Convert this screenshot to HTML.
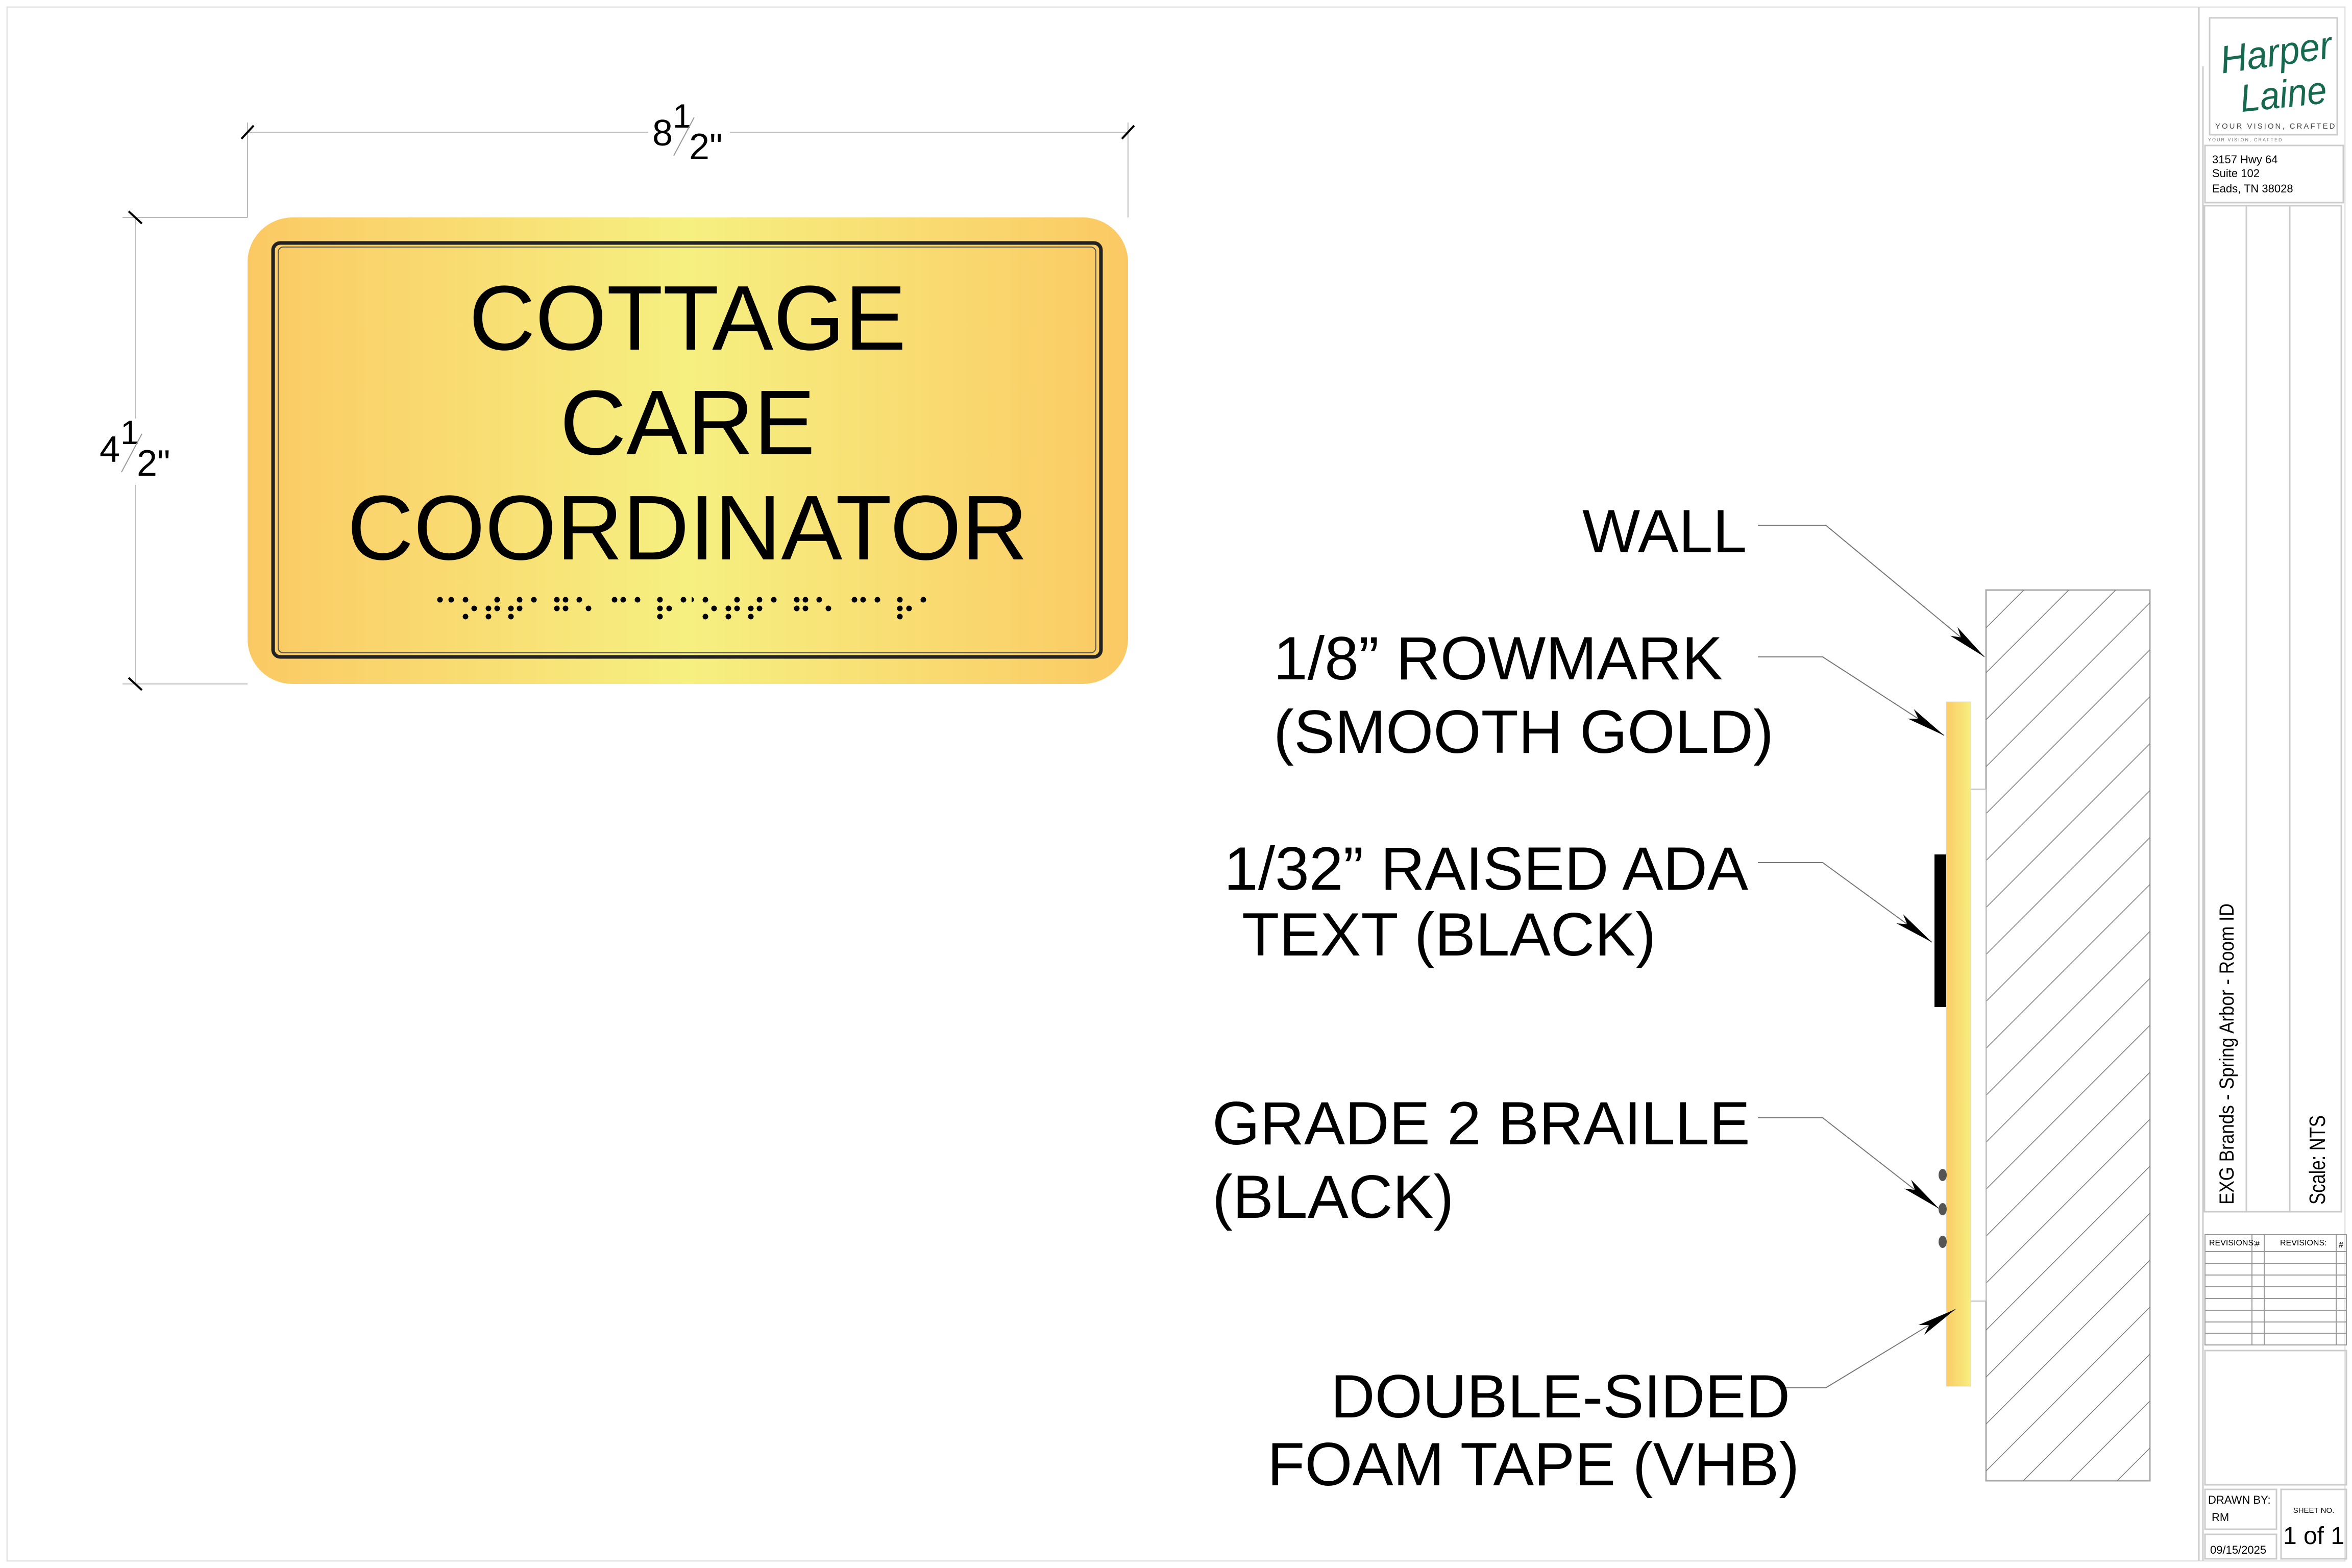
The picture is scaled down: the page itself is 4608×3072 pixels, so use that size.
<!DOCTYPE html>
<html><head><meta charset="utf-8"><style>
html,body{margin:0;padding:0;background:#fff;width:4608px;height:3072px;overflow:hidden}
svg{display:block}
text{font-family:"Liberation Sans",sans-serif}
</style></head><body>
<svg width="4608" height="3072" viewBox="0 0 4608 3072" xmlns="http://www.w3.org/2000/svg" overflow="hidden">
<defs>
<linearGradient id="sg" x1="0" x2="1" y1="0" y2="0">
<stop offset="0" stop-color="#FBC964"/><stop offset="0.5" stop-color="#F6F081"/><stop offset="1" stop-color="#FBC964"/>
</linearGradient>
<linearGradient id="stg" x1="0" x2="1"><stop offset="0" stop-color="#FBCC68"/><stop offset="1" stop-color="#F7EE7F"/></linearGradient>
<clipPath id="wc"><rect x="3891" y="1156" width="321" height="1745"/></clipPath>
<marker id="ah" markerWidth="80" markerHeight="30" refX="78" refY="15" orient="auto" markerUnits="userSpaceOnUse">
<path d="M0,4 L78,15 L0,26 L18,15 Z" fill="#000"/></marker>
<g id="bd">
<circle cx="862" cy="1175" r="5.5"/><circle cx="884" cy="1175" r="5.5"/><circle cx="912" cy="1175" r="5.5"/><circle cx="974" cy="1175" r="5.5"/><circle cx="1018" cy="1175" r="5.5"/><circle cx="1046" cy="1175" r="5.5"/><circle cx="1091" cy="1175" r="5.5"/><circle cx="1108" cy="1175" r="5.5"/><circle cx="1135" cy="1175" r="5.5"/><circle cx="1204" cy="1175" r="5.5"/><circle cx="1221" cy="1175" r="5.5"/><circle cx="1249" cy="1175" r="5.5"/><circle cx="1293" cy="1175" r="5.5"/><circle cx="1339" cy="1175" r="5.5"/>
<circle cx="929" cy="1192" r="5.5"/><circle cx="957" cy="1192" r="5.5"/><circle cx="974" cy="1192" r="5.5"/><circle cx="1001" cy="1192" r="5.5"/><circle cx="1018" cy="1192" r="5.5"/><circle cx="1091" cy="1192" r="5.5"/><circle cx="1108" cy="1192" r="5.5"/><circle cx="1153" cy="1192" r="5.5"/><circle cx="1293" cy="1192" r="5.5"/><circle cx="1311" cy="1192" r="5.5"/>
<circle cx="912" cy="1208" r="5.5"/><circle cx="957" cy="1208" r="5.5"/><circle cx="1001" cy="1208" r="5.5"/><circle cx="1293" cy="1208" r="5.5"/>
</g>
<clipPath id="bc"><rect x="1355" y="1160" width="475" height="60"/></clipPath>
</defs>
<rect x="14" y="14" width="4580" height="3044" fill="none" stroke="#e6e6e6" stroke-width="3"/>

<g stroke="#bbb" stroke-width="2" fill="none">
<line x1="485" y1="240" x2="485" y2="426"/><line x1="2210" y1="240" x2="2210" y2="426"/>
<line x1="485" y1="259" x2="1270" y2="259"/><line x1="1430" y1="259" x2="2210" y2="259"/>
<line x1="240" y1="426" x2="485" y2="426"/><line x1="240" y1="1340" x2="485" y2="1340"/>
<line x1="265" y1="426" x2="265" y2="820"/><line x1="265" y1="950" x2="265" y2="1340"/>
</g>
<g stroke="#000" stroke-width="4">
<line x1="473" y1="272" x2="497" y2="246"/><line x1="2198" y1="272" x2="2222" y2="246"/>
<line x1="252" y1="414" x2="278" y2="438"/><line x1="252" y1="1328" x2="278" y2="1352"/>
</g>
<text x="1278" y="285" font-size="72">8</text><text x="1318" y="250" font-size="66">1</text>
<line x1="1320" y1="305" x2="1360" y2="230" stroke="#999" stroke-width="2"/>
<text x="1350" y="312" font-size="72">2"</text>
<text x="195" y="905" font-size="72">4</text><text x="236" y="870" font-size="66">1</text>
<line x1="238" y1="925" x2="278" y2="850" stroke="#999" stroke-width="2"/>
<text x="268" y="932" font-size="72">2"</text>

<rect x="485" y="426" width="1725" height="914" rx="88" fill="url(#sg)"/>
<rect x="535" y="476" width="1622" height="811" rx="14" fill="none" stroke="#222" stroke-width="7"/>
<rect x="545" y="484" width="1602" height="795" rx="10" fill="none" stroke="#555" stroke-width="2"/>
<g font-size="180" text-anchor="middle" fill="#000">
<text x="1347" y="685">COTTAGE</text>
<text x="1347" y="890">CARE</text>
<text x="1347" y="1096">COORDINATOR</text>
</g>
<g fill="#000">
<use href="#bd"/>
<g clip-path="url(#bc)"><use href="#bd" transform="translate(470,0)"/></g>
</g>

<rect x="3891" y="1156" width="321" height="1745" fill="#fff" stroke="#aaa" stroke-width="3"/>
<g clip-path="url(#wc)" stroke="#777" stroke-width="1.5">
<line x1="3891" y1="1230" x2="4291" y2="830"/><line x1="3891" y1="1318" x2="4291" y2="918"/>
<line x1="3891" y1="1410" x2="4291" y2="1010"/><line x1="3891" y1="1502" x2="4291" y2="1102"/>
<line x1="3891" y1="1594" x2="4291" y2="1194"/><line x1="3891" y1="1686" x2="4291" y2="1286"/>
<line x1="3891" y1="1778" x2="4291" y2="1378"/><line x1="3891" y1="1870" x2="4291" y2="1470"/>
<line x1="3891" y1="1962" x2="4291" y2="1562"/><line x1="3891" y1="2054" x2="4291" y2="1654"/>
<line x1="3891" y1="2146" x2="4291" y2="1746"/><line x1="3891" y1="2238" x2="4291" y2="1838"/>
<line x1="3891" y1="2330" x2="4291" y2="1930"/><line x1="3891" y1="2422" x2="4291" y2="2022"/>
<line x1="3891" y1="2514" x2="4291" y2="2114"/><line x1="3891" y1="2606" x2="4291" y2="2206"/>
<line x1="3891" y1="2698" x2="4291" y2="2298"/><line x1="3891" y1="2790" x2="4291" y2="2390"/>
<line x1="3891" y1="2882" x2="4291" y2="2482"/><line x1="3891" y1="2974" x2="4291" y2="2574"/>
<line x1="3891" y1="3066" x2="4291" y2="2666"/><line x1="3891" y1="3158" x2="4291" y2="2758"/>
<line x1="3891" y1="3250" x2="4291" y2="2850"/>
</g>
<rect x="3861" y="1546" width="30" height="1003" fill="#fff" stroke="#bbb" stroke-width="2"/>
<rect x="3813" y="1375" width="48" height="1341" fill="url(#stg)" stroke="#ddd" stroke-width="1"/>
<rect x="3790" y="1674" width="23" height="299" fill="#000"/>
<g fill="#555"><ellipse cx="3806" cy="2302" rx="8" ry="12"/><ellipse cx="3806" cy="2369" rx="8" ry="12"/><ellipse cx="3806" cy="2433" rx="8" ry="12"/></g>

<g stroke="#777" stroke-width="2" fill="none">
<polyline points="3444,1029 3577,1029 3888,1287" marker-end="url(#ah)"/>
<polyline points="3444,1287 3571,1287 3809,1441" marker-end="url(#ah)"/>
<polyline points="3444,1690 3571,1690 3785,1846" marker-end="url(#ah)"/>
<polyline points="3444,2190 3571,2190 3799,2368" marker-end="url(#ah)"/>
<polyline points="3498,2719 3577,2719 3831,2565" marker-end="url(#ah)"/>
</g>
<g font-size="120" fill="#000">
<text x="3100" y="1082">WALL</text>
<text x="2495" y="1331">1/8” ROWMARK</text>
<text x="2495" y="1475">(SMOOTH GOLD)</text>
<text x="2398" y="1743">1/32” RAISED ADA</text>
<text x="2433" y="1872">TEXT (BLACK)</text>
<text x="2375" y="2242">GRADE 2 BRAILLE</text>
<text x="2375" y="2386">(BLACK)</text>
<text x="2607" y="2777">DOUBLE-SIDED</text>
<text x="2483" y="2910">FOAM TAPE (VHB)</text>
</g>

<g stroke="#ccc" stroke-width="3" fill="none">
<line x1="4308" y1="14" x2="4308" y2="3058"/><line x1="4316" y1="130" x2="4316" y2="3058"/>
<rect x="4329" y="35" width="250" height="229"/>
<rect x="4320" y="285" width="271" height="112"/>
<rect x="4319" y="403" width="268" height="1971"/>
<line x1="4401" y1="403" x2="4401" y2="2374"/><line x1="4486" y1="403" x2="4486" y2="2374"/>
<rect x="4320" y="2646" width="277" height="263"/>
<rect x="4320" y="2918" width="140" height="78"/>
<rect x="4320" y="3006" width="140" height="48"/>
<rect x="4469" y="2918" width="128" height="136"/>
</g>
<g stroke="#999" stroke-width="2" fill="none">
<rect x="4320" y="2419" width="277" height="216"/>
<line x1="4320" y1="2452" x2="4597" y2="2452"/><line x1="4320" y1="2475" x2="4597" y2="2475"/>
<line x1="4320" y1="2498" x2="4597" y2="2498"/><line x1="4320" y1="2521" x2="4597" y2="2521"/>
<line x1="4320" y1="2544" x2="4597" y2="2544"/><line x1="4320" y1="2567" x2="4597" y2="2567"/>
<line x1="4320" y1="2590" x2="4597" y2="2590"/><line x1="4320" y1="2612" x2="4597" y2="2612"/>
<line x1="4412" y1="2419" x2="4412" y2="2635"/><line x1="4436" y1="2419" x2="4436" y2="2635"/>
<line x1="4577" y1="2419" x2="4577" y2="2635"/>
</g>
<g fill="#16684f" font-family="DejaVu Serif" font-style="italic">
<text x="4350" y="130" font-size="76" textLength="220" lengthAdjust="spacingAndGlyphs" transform="rotate(-8 4450 110)">Harper</text>
<text x="4390" y="212" font-size="76" textLength="170" lengthAdjust="spacingAndGlyphs" transform="rotate(-6 4460 200)">Laine</text>
</g>
<text x="4340" y="252" font-size="15" fill="#444" letter-spacing="3">YOUR VISION, CRAFTED</text>
<text x="4326" y="277" font-size="9" fill="#777" letter-spacing="2">YOUR VISION, CRAFTED</text>
<g font-size="22" fill="#000">
<text x="4334" y="320">3157 Hwy 64</text>
<text x="4334" y="347">Suite 102</text>
<text x="4334" y="377">Eads, TN 38028</text>
</g>
<text transform="translate(4376,2360) rotate(-90)" font-size="40" textLength="590" lengthAdjust="spacingAndGlyphs">EXG Brands - Spring Arbor - Room ID</text>
<text transform="translate(4555,2360) rotate(-90)" font-size="44" textLength="175" lengthAdjust="spacingAndGlyphs">Scale: NTS</text>
<g font-size="16" fill="#000">
<text x="4328" y="2440">REVISIONS:</text><text x="4418" y="2442">#</text>
<text x="4467" y="2440">REVISIONS:</text><text x="4582" y="2444">#</text>
</g>
<text x="4326" y="2946" font-size="22">DRAWN BY:</text>
<text x="4333" y="2980" font-size="22">RM</text>
<text x="4330" y="3044" font-size="22">09/15/2025</text>
<text x="4533" y="2964" font-size="15" text-anchor="middle">SHEET NO.</text>
<text x="4533" y="3025" font-size="48" text-anchor="middle">1 of 1</text>
</svg>
</body></html>
